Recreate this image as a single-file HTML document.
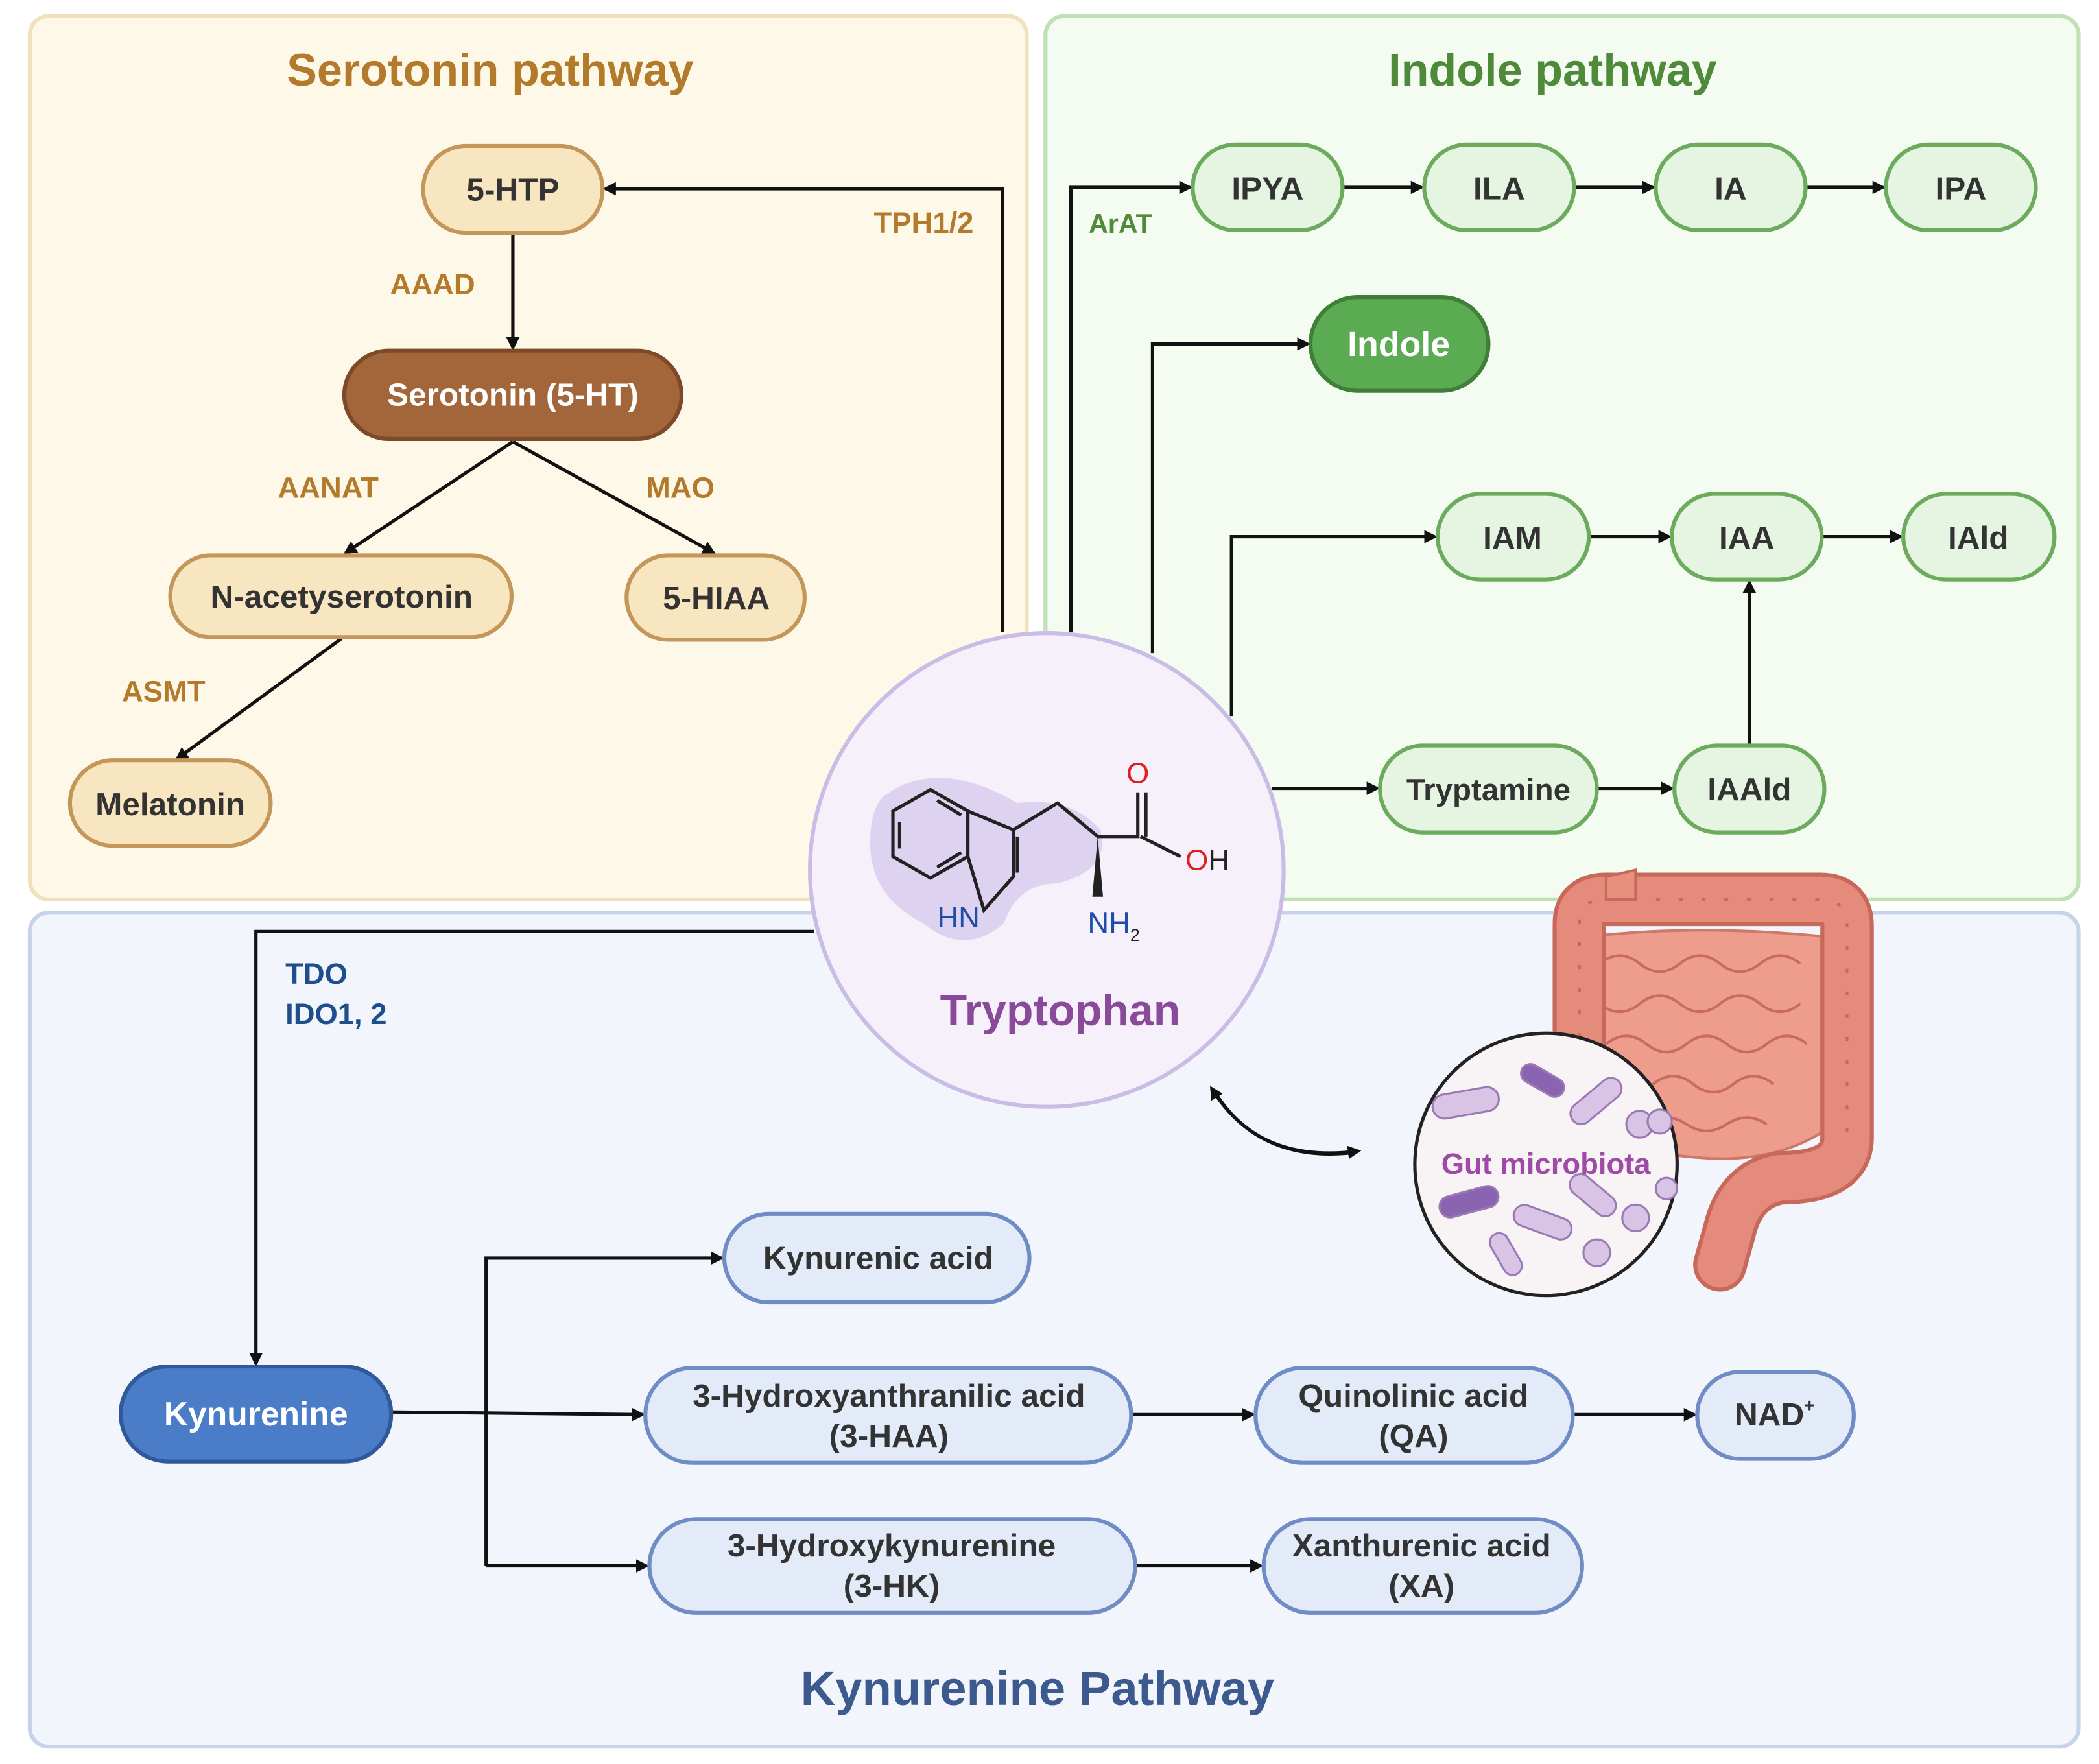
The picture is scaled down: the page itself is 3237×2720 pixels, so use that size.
<!DOCTYPE html>
<html><head><meta charset="utf-8"><style>
html,body{margin:0;padding:0;background:#fff;}
svg{display:block;}
text{font-family:"Liberation Sans",sans-serif;font-weight:bold;}
</style></head><body>
<svg width="3237" height="2720" viewBox="0 0 1568 1318" xmlns="http://www.w3.org/2000/svg">
<defs>
<marker id="ar" markerWidth="10" markerHeight="10" refX="8" refY="5" orient="auto" markerUnits="userSpaceOnUse">
<path d="M0,0 L10,5 L0,10 z" fill="#111"/></marker>
</defs>
<!-- panels -->
<rect x="22" y="12" width="745" height="660" rx="14" fill="#fdf8e7" stroke="#f0e1bd" stroke-width="3"/>
<rect x="781" y="12" width="772" height="660" rx="14" fill="#f4fbf1" stroke="#c0e0b6" stroke-width="3"/>
<rect x="22" y="682" width="1531" height="623" rx="14" fill="#f2f6fc" stroke="#c7d3e6" stroke-width="3"/>

<!-- titles -->
<text x="366" y="64" font-size="34" fill="#b37a2c" text-anchor="middle">Serotonin pathway</text>
<text x="1160" y="64" font-size="34" fill="#4f8a3a" text-anchor="middle">Indole pathway</text>
<text x="775" y="1274" font-size="36" fill="#3d5a8f" text-anchor="middle">Kynurenine Pathway</text>

<!-- connectors -->
<g fill="none" stroke="#111" stroke-width="2.5">
<path d="M749,472 V141 H452" marker-end="url(#ar)"/>
<path d="M383,174 V260" marker-end="url(#ar)"/>
<path d="M383,330 L258,413" marker-end="url(#ar)"/>
<path d="M383,330 L533,413" marker-end="url(#ar)"/>
<path d="M255,477 L132,567" marker-end="url(#ar)"/>
<path d="M800,472 V140 H889" marker-end="url(#ar)"/>
<path d="M1003,140 H1062" marker-end="url(#ar)"/>
<path d="M1176,140 H1235" marker-end="url(#ar)"/>
<path d="M1349,140 H1407" marker-end="url(#ar)"/>
<path d="M861,488 V257 H977" marker-end="url(#ar)"/>
<path d="M920,535 V401 H1072" marker-end="url(#ar)"/>
<path d="M1187,401 H1247" marker-end="url(#ar)"/>
<path d="M1361,401 H1420" marker-end="url(#ar)"/>
<path d="M950,589 H1029" marker-end="url(#ar)"/>
<path d="M1193,589 H1249" marker-end="url(#ar)"/>
<path d="M1307,557 V435" marker-end="url(#ar)"/>
<path d="M608,696 H191 V1019" marker-end="url(#ar)"/>
<path d="M292,1055 L480,1057" marker-end="url(#ar)"/>
<path d="M363,1170 V940 H539" marker-end="url(#ar)"/>
<path d="M363,1170 H483" marker-end="url(#ar)"/>
<path d="M845,1057 H936" marker-end="url(#ar)"/>
<path d="M1175,1057 H1266" marker-end="url(#ar)"/>
<path d="M848,1170 H942" marker-end="url(#ar)"/>
<path d="M907,815 Q940,870 1015,860" marker-end="url(#ar)"/>
<path d="M1013,861 Q940,870 905,813" marker-end="url(#ar)"/>
</g>

<!-- serotonin nodes -->
<g stroke="#c4965a" stroke-width="3" fill="#f7e6c0">
<rect x="316" y="109" width="134" height="65" rx="32"/>
<rect x="127" y="415" width="255" height="61" rx="30"/>
<rect x="468" y="415" width="133" height="63" rx="31"/>
<rect x="52" y="568" width="150" height="64" rx="32"/>
<rect x="257" y="262" width="252" height="66" rx="33" fill="#a3663a" stroke="#7d4a28"/>
</g>
<g font-size="24" fill="#333" text-anchor="middle">
<text x="383" y="150">5-HTP</text>
<text x="255" y="454">N-acetyserotonin</text>
<text x="535" y="455">5-HIAA</text>
<text x="127" y="609">Melatonin</text>
<text x="383" y="303" fill="#fff">Serotonin (5-HT)</text>
</g>
<g font-size="22" fill="#b37a2c" text-anchor="middle">
<text x="323" y="220">AAAD</text>
<text x="245" y="372">AANAT</text>
<text x="508" y="372">MAO</text>
<text x="122" y="524">ASMT</text>
<text x="690" y="174">TPH1/2</text>
</g>

<!-- indole nodes -->
<g stroke="#6cab5d" stroke-width="3" fill="#e6f5e1">
<rect x="891" y="108" width="112" height="64" rx="32"/>
<rect x="1064" y="108" width="112" height="64" rx="32"/>
<rect x="1237" y="108" width="112" height="64" rx="32"/>
<rect x="1409" y="108" width="112" height="64" rx="32"/>
<rect x="1074" y="369" width="113" height="64" rx="32"/>
<rect x="1249" y="369" width="112" height="64" rx="32"/>
<rect x="1422" y="369" width="113" height="64" rx="32"/>
<rect x="1031" y="557" width="162" height="65" rx="32"/>
<rect x="1251" y="557" width="112" height="65" rx="32"/>
<rect x="979" y="222" width="133" height="70" rx="35" fill="#5aab52" stroke="#3f7f3a"/>
</g>
<g font-size="24" fill="#333" text-anchor="middle">
<text x="947" y="149">IPYA</text>
<text x="1120" y="149">ILA</text>
<text x="1293" y="149">IA</text>
<text x="1465" y="149">IPA</text>
<text x="1130" y="410">IAM</text>
<text x="1305" y="410">IAA</text>
<text x="1478" y="410">IAld</text>
<text x="1112" y="598" font-size="23">Tryptamine</text>
<text x="1307" y="598">IAAld</text>
<text x="1045" y="266" fill="#fff" font-size="26">Indole</text>
</g>
<text x="837" y="174" font-size="20" fill="#4f8a3a" text-anchor="middle">ArAT</text>

<!-- kynurenine nodes -->
<g stroke="#6f8cc4" stroke-width="3" fill="#e4ebf8">
<rect x="541" y="907" width="228" height="66" rx="33"/>
<rect x="482" y="1022" width="363" height="71" rx="35"/>
<rect x="938" y="1022" width="237" height="71" rx="35"/>
<rect x="1268" y="1025" width="117" height="65" rx="32"/>
<rect x="485" y="1135" width="363" height="70" rx="35"/>
<rect x="944" y="1135" width="238" height="70" rx="35"/>
<rect x="90" y="1021" width="202" height="71" rx="35" fill="#4a7cc7" stroke="#2f5a9a"/>
</g>
<g font-size="24" fill="#333" text-anchor="middle">
<text x="656" y="948">Kynurenic acid</text>
<text x="664" y="1051">3-Hydroxyanthranilic acid</text>
<text x="664" y="1081">(3-HAA)</text>
<text x="1056" y="1051">Quinolinic acid</text>
<text x="1056" y="1081">(QA)</text>
<text x="1326" y="1065">NAD<tspan font-size="14" dy="-10">+</tspan></text>
<text x="666" y="1163">3-Hydroxykynurenine</text>
<text x="666" y="1193">(3-HK)</text>
<text x="1062" y="1163">Xanthurenic acid</text>
<text x="1062" y="1193">(XA)</text>
<text x="191" y="1065" fill="#fff" font-size="25">Kynurenine</text>
</g>
<g font-size="22" fill="#1f4e8c">
<text x="213" y="735">TDO</text>
<text x="213" y="765">IDO1, 2</text>
</g>

<!-- gut -->
<g>
<!-- small intestine -->
<path d="M1185,700 Q1270,690 1365,700 L1370,840 Q1330,870 1270,865 Q1200,860 1180,830 z" fill="#ee9d8c" stroke="#cf7868" stroke-width="2"/>
<g fill="none" stroke="#c96b5e" stroke-width="2">
<path d="M1195,720 q15,-12 30,0 t30,0 t30,0 t30,0 t30,0"/>
<path d="M1195,750 q15,12 30,0 t30,0 t30,0 t30,0 t30,0"/>
<path d="M1200,780 q15,-12 30,0 t30,0 t30,0 t30,0 t30,0"/>
<path d="M1205,810 q15,12 30,0 t30,0 t30,0 t30,0"/>
<path d="M1230,840 q15,-10 30,0 t30,0 t30,0"/>
</g>
<!-- colon -->
<path d="M1180,860 V690 Q1180,672 1200,672 H1360 Q1380,672 1380,692 V850 Q1380,880 1330,880 Q1300,885 1292,920 L1285,945" fill="none" stroke="#c8685a" stroke-width="40" stroke-linecap="round" stroke-linejoin="round"/>
<path d="M1180,860 V690 Q1180,672 1200,672 H1360 Q1380,672 1380,692 V850 Q1380,880 1330,880 Q1300,885 1292,920 L1285,945" fill="none" stroke="#e48b7b" stroke-width="34" stroke-linecap="round" stroke-linejoin="round"/>
<path d="M1180,860 V690 Q1180,672 1200,672 H1360 Q1380,672 1380,692 V850" fill="none" stroke="#c8685a" stroke-width="2" stroke-dasharray="3 14" transform="translate(0,0)"/>
<path d="M1200,655 L1222,650 L1222,672 L1200,672 z" fill="#e8907e" stroke="#c8685a" stroke-width="2"/>
<circle cx="1155" cy="870" r="98" fill="#f8f3f5" stroke="#222" stroke-width="2.5"/>
<g fill="#d9c4e6" stroke="#9a7ab5" stroke-width="1.5">
<rect x="1070" y="815" width="50" height="18" rx="9" transform="rotate(-10 1095 824)"/>
<rect x="1135" y="800" width="35" height="14" rx="7" fill="#8a64b0" transform="rotate(30 1152 807)"/>
<rect x="1170" y="815" width="45" height="16" rx="8" transform="rotate(-40 1192 823)"/>
<rect x="1075" y="890" width="45" height="16" rx="8" fill="#8a64b0" transform="rotate(-15 1097 898)"/>
<rect x="1130" y="905" width="45" height="16" rx="8" transform="rotate(20 1152 913)"/>
<rect x="1170" y="885" width="40" height="16" rx="8" transform="rotate(40 1190 893)"/>
<rect x="1108" y="930" width="34" height="14" rx="7" transform="rotate(60 1125 937)"/>
<circle cx="1225" cy="840" r="10"/><circle cx="1240" cy="838" r="9"/>
<circle cx="1222" cy="910" r="10"/><circle cx="1193" cy="936" r="10"/>
<circle cx="1245" cy="888" r="8"/>
</g>
<text x="1155" y="877" font-size="22" fill="#a04aa8" text-anchor="middle">Gut microbiota</text>
</g>

<!-- tryptophan -->
<circle cx="782" cy="650" r="177" fill="#f5f0fa" stroke="#c9bde6" stroke-width="3"/>
<path d="M660,595 Q700,565 760,600 Q800,595 822,620 Q830,650 790,660 Q760,660 750,690 Q720,715 690,690 Q650,670 650,630 Q650,605 660,595 z" fill="#ddd2ef"/>
<g fill="none" stroke="#222" stroke-width="2.5">
<path d="M695,590 L723,606 L723,640 L695,656 L667,640 L667,606 z"/>
<path d="M700,598 L718,609 M672,614 L672,634 M700,648 L718,637"/>
<path d="M723,606 L757,620 L757,655 L735,680 L723,640"/>
<path d="M760,625 L760,652"/>
<path d="M757,620 L790,600 L820,625 L850,625 L850,592 M856,625 L856,592 M852,625 L882,640"/>
</g>
<path d="M820,625 L816,670 L824,670 z" fill="#222"/>
<text x="716" y="693" font-size="22" fill="#1e4fa8" text-anchor="middle" style="font-weight:normal">HN</text>
<text x="850" y="585" font-size="22" fill="#e02020" text-anchor="middle" style="font-weight:normal">O</text>
<text x="902" y="650" font-size="22" fill="#222" text-anchor="middle" style="font-weight:normal"><tspan fill="#e02020">O</tspan>H</text>
<text x="832" y="697" font-size="22" fill="#1e4fa8" text-anchor="middle" style="font-weight:normal">NH<tspan font-size="13" dy="6" fill="#222">2</tspan></text>
<text x="792" y="766" font-size="33" fill="#8a4a9a" text-anchor="middle">Tryptophan</text>
</svg>
</body></html>
